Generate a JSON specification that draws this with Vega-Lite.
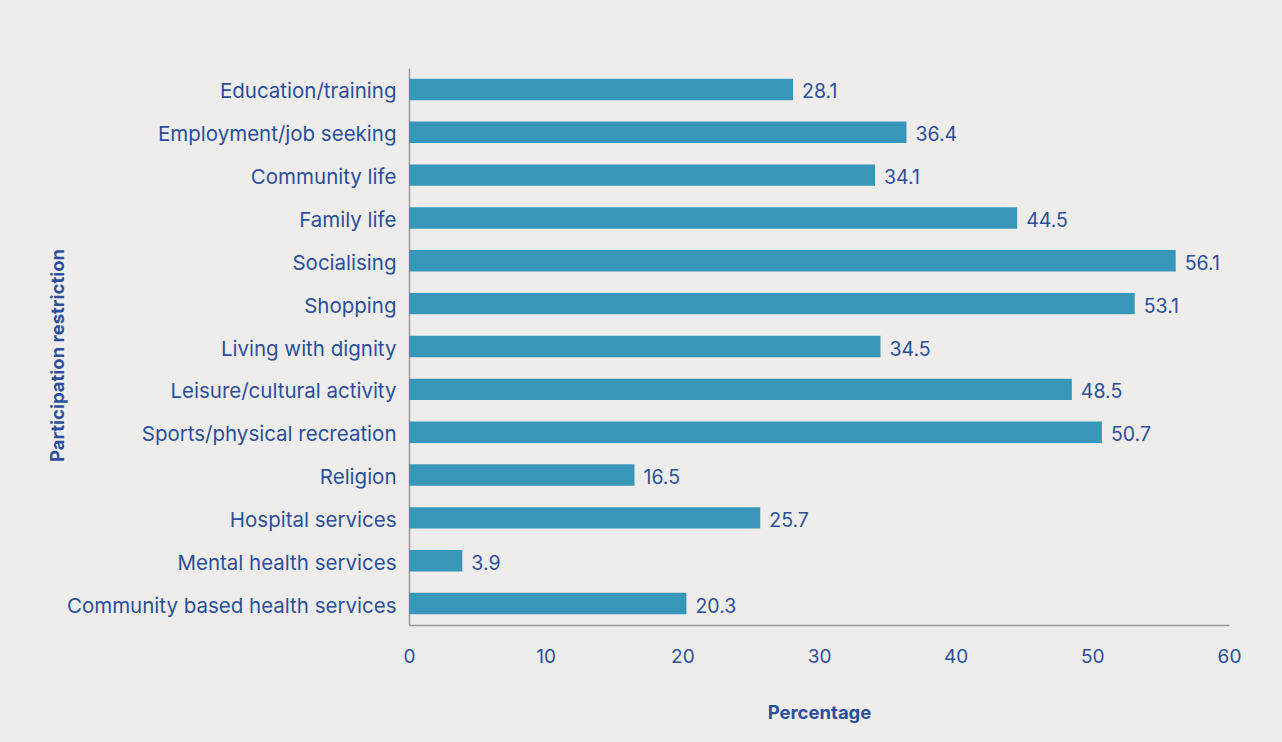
{
  "$schema": "https://vega.github.io/schema/vega-lite/v6.json",
  "width": 820,
  "height": 557,
  "autosize": {"type": "none"},
  "padding": {"left": 409, "top": 68, "right": 53, "bottom": 117},
  "background": "#efedeb",
  "config": {
    "view": {"stroke": null},
    "font": "Inter",
    "axis": {"labelColor": "#2a4f9e", "titleColor": "#2a4f9e", "labelFont": "Inter", "titleFont": "Inter"}
  },
  "data": {
    "values": [
      {"category": "Education/training", "value": 28.1},
      {"category": "Employment/job seeking", "value": 36.4},
      {"category": "Community life", "value": 34.1},
      {"category": "Family life", "value": 44.5},
      {"category": "Socialising", "value": 56.1},
      {"category": "Shopping", "value": 53.1},
      {"category": "Living with dignity", "value": 34.5},
      {"category": "Leisure/cultural activity", "value": 48.5},
      {"category": "Sports/physical recreation", "value": 50.7},
      {"category": "Religion", "value": 16.5},
      {"category": "Hospital services", "value": 25.7},
      {"category": "Mental health services", "value": 3.9},
      {"category": "Community based health services", "value": 20.3}
    ]
  },
  "encoding": {
    "y": {
      "field": "category",
      "type": "nominal",
      "sort": null,
      "scale": {"paddingInner": 0.5, "paddingOuter": 0.25},
      "axis": {
        "title": "Participation restriction",
        "titleFontSize": 18.5,
        "titleFontWeight": "bold",
        "titleAngle": -90,
        "titleX": -352,
        "titleY": 287,
        "titleAlign": "center",
        "titleBaseline": "middle",
        "labelFontSize": 20.5,
        "labelPadding": 13,
        "labelOffset": 3,
        "labelLimit": 0,
        "ticks": false,
        "domainColor": "#9a9a9a",
        "domainWidth": 1.5
      }
    },
    "x": {
      "field": "value",
      "type": "quantitative",
      "scale": {"domain": [0, 60], "nice": false},
      "axis": {
        "title": "Percentage",
        "titleFontSize": 18.5,
        "titleFontWeight": "bold",
        "titleX": 410,
        "titleY": 87,
        "titleAlign": "center",
        "titleBaseline": "middle",
        "values": [0, 10, 20, 30, 40, 50, 60],
        "labelFontSize": 19,
        "labelPadding": 22,
        "labelFlush": false,
        "ticks": false,
        "grid": false,
        "domainColor": "#9a9a9a",
        "domainWidth": 1.5
      }
    }
  },
  "layer": [
    {"mark": {"type": "bar", "color": "#3897b8"}},
    {
      "mark": {"type": "text", "align": "left", "baseline": "middle", "dx": 9, "dy": 3, "fontSize": 19.5, "color": "#2a4f9e"},
      "encoding": {"text": {"field": "value", "type": "quantitative", "format": ".1f"}}
    }
  ]
}
